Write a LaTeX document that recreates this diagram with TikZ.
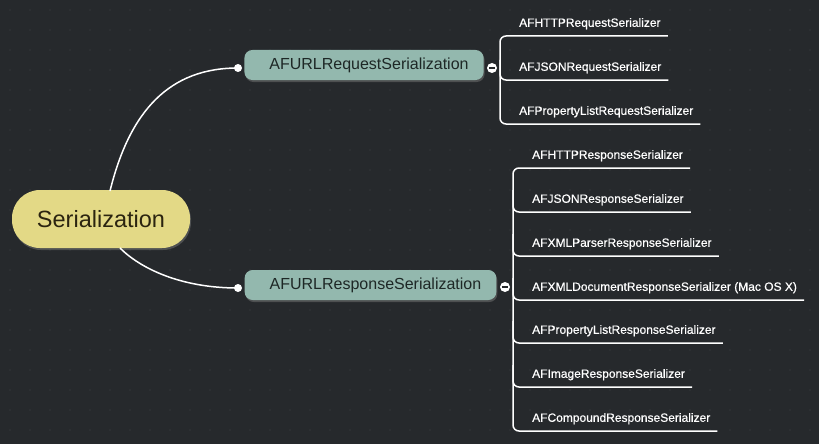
\documentclass[tikz,border=0pt]{standalone}
\usepackage{fontspec}
\setmainfont{Liberation Sans}
\newfontfamily\leaffont[FakeBold=0.6]{Liberation Sans}
\usetikzlibrary{shadows}
\definecolor{bg}{HTML}{26292C}
\definecolor{bgdot}{HTML}{33363A}
\definecolor{rootfill}{HTML}{E3D986}
\definecolor{roottext}{HTML}{2B2410}
\definecolor{branchfill}{HTML}{93B8AE}
\definecolor{branchtext}{HTML}{1E2826}
\tikzset{
  rootbox/.style={draw=none, fill=rootfill, rounded corners=28pt, minimum width=178pt, minimum height=58pt,
    text=roottext, font=\fontsize{23.5}{26}\selectfont, inner sep=0pt,
    drop shadow={opacity=0.45, shadow xshift=1pt, shadow yshift=-2pt}},
  branchbox/.style={draw=none, fill=branchfill, rounded corners=8pt, minimum height=30pt, inner xsep=15pt, inner ysep=0pt,
    text=branchtext, font=\fontsize{16}{18}\selectfont,
    drop shadow={opacity=0.45, shadow xshift=1pt, shadow yshift=-2pt}},
  leaf/.style={anchor=south west, text=white, font=\leaffont\fontsize{12}{14}\selectfont, inner xsep=7pt, inner ysep=9pt, text depth=0pt},
  wire/.style={draw=white, line width=1.5pt},
  enddot/.style={circle, fill=white, inner sep=0pt, minimum size=8pt},
  minusdot/.style={circle, fill=white, inner sep=0pt, minimum size=10pt, path picture={\draw[bg, line width=1.6pt] ([xshift=-3pt]path picture bounding box.center) -- ([xshift=3pt]path picture bounding box.center);}},
}
\begin{document}
\begin{tikzpicture}[x=1pt, y=-1pt]
\fill[bg] (0,0) rectangle (819,444);
\useasboundingbox (0,0) rectangle (819,444);
\foreach \i in {0,...,40} \foreach \j in {0,...,22} \fill[bgdot] (10+20*\i, 10+20*\j) circle (0.9pt);

% root
\node[rootbox] (root) at (101,219) {Serialization};
% branches
\node[branchbox] (req) at (364,65) {\hspace*{10pt}AFURLRequestSerialization};
\node[branchbox] (resp) at (370.5,285) {\hspace*{10pt}AFURLResponseSerialization};

\coordinate (rtop) at (110,191);
\coordinate (rbot) at (120,248);
\node[enddot] (reqin) at (238,68) {};
\node[enddot] (respin) at (238,288) {};
\draw[wire] (rtop) .. controls (130,110) and (170,68) .. (reqin.center);
\draw[wire] (rbot) .. controls (140,268) and (180,288) .. (respin.center);

% request children
\node[leaf] (q1) at (512,36) {AFHTTPRequestSerializer};
\node[leaf] (q2) at (512,80) {AFJSONRequestSerializer};
\node[leaf] (q3) at (512,124) {AFPropertyListRequestSerializer};
\coordinate (qv) at (500,36);
\draw[wire, rounded corners=6pt] (q1.south east) -- (qv) -- (qv |- q3.south) -- (q3.south east);
\draw[wire, rounded corners=6pt] (qv |- 0,60) -- (qv |- q2.south) -- (q2.south east);
\node[minusdot] (reqout) at (492,68) {};

% response children
\node[leaf] (s1) at (525,168) {AFHTTPResponseSerializer};
\node[leaf] (s2) at (525,212) {AFJSONResponseSerializer};
\node[leaf] (s3) at (525,256) {AFXMLParserResponseSerializer};
\node[leaf] (s4) at (525,300) {AFXMLDocumentResponseSerializer (Mac OS X)};
\node[leaf] (s5) at (525,343) {AFPropertyListResponseSerializer};
\node[leaf] (s6) at (525,387) {AFImageResponseSerializer};
\node[leaf] (s7) at (525,431) {AFCompoundResponseSerializer};
\coordinate (sv) at (513,168);
\draw[wire, rounded corners=6pt] (s1.south east) -- (sv) -- (sv |- s7.south) -- (s7.south east);
\foreach \k/\p in {s2/190, s3/234, s4/278, s5/321, s6/365}
  \draw[wire, rounded corners=6pt] (sv |- 0,\p) -- (sv |- \k.south) -- (\k.south east);
\node[minusdot] (respout) at (505,287) {};
\end{tikzpicture}
\end{document}
